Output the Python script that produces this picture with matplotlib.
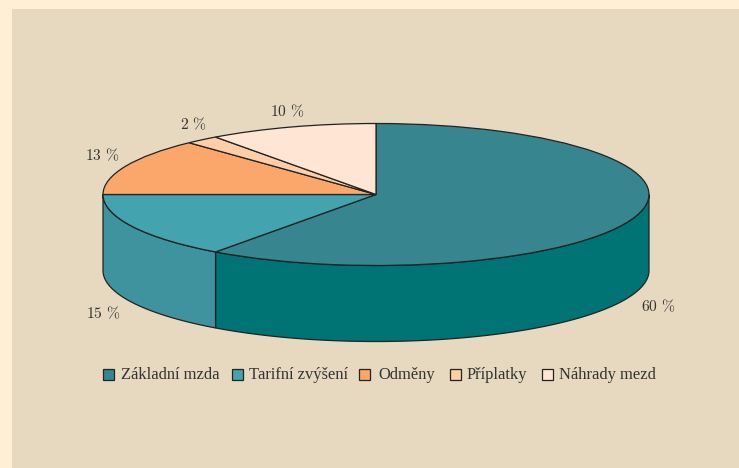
import numpy as np
import matplotlib
matplotlib.use('Agg')
import matplotlib.pyplot as plt
from matplotlib.patches import Rectangle

plt.rcParams['font.family'] = ['Liberation Serif', 'DejaVu Serif']
plt.rcParams['mathtext.fontset'] = 'cm'

categories = ['Základní mzda', 'Tarifní zvýšení', 'Odměny', 'Příplatky', 'Náhrady mezd']
values = [60, 15, 13, 2, 10]
pct_labels = ['60 %', '15 %', '13 %', '2 %', '10 %']
top_colors = ['#37858f', '#43a3af', '#fba76c', '#fdcfa9', '#ffe5d3']
side_colors = ['#007375', '#3e939f']

W, H = 739, 468
cx, cy, rx, ry, depth = 376, 194.5, 273, 71, 76
line = '#222222'

fig = plt.figure(figsize=(W / 100, H / 100), dpi=100, facecolor='#ffefd4')

# pixel coords (y down) for panel, labels and legend
px = matplotlib.transforms.Affine2D().scale(1 / W, -1 / H).translate(0, 1) + fig.transFigure

fig.add_artist(Rectangle((12, 9), W - 12, H - 9, transform=px, facecolor='#e6d9bf',
                         edgecolor='none', zorder=-5))

# axes in unit-circle coords, squashed so the pie becomes an ellipse
ax = fig.add_axes([0, 0, 1, 1])
ax.pie(values, colors=top_colors, startangle=90, counterclock=False, radius=1,
       wedgeprops=dict(edgecolor=line, linewidth=0.9, zorder=3))
ax.set_xlim((0 - cx) / rx, (W - cx) / rx)
ax.set_ylim((cy - H) / ry, cy / ry)
ax.set_aspect('auto')
ax.set_frame_on(False)

# rim of the disc, only the front half shows
d = depth / ry
edges = np.cumsum([0] + values) / sum(values) * 2 * np.pi
for i, col in enumerate(side_colors):
    a0 = max(edges[i], np.pi / 2)
    a1 = min(edges[i + 1], 3 * np.pi / 2)
    t = np.linspace(a0, a1, 200)
    xs = np.sin(t)
    ys = np.cos(t)
    ax.fill(np.r_[xs, xs[::-1]], np.r_[ys, ys[::-1] - d], facecolor=col,
            edgecolor=line, linewidth=0.9, zorder=2)

label_pos = [(658, 307), (103, 314), (102, 156), (193, 125), (287, 112)]
for s, (x, y) in zip(pct_labels, label_pos):
    num, pc = s.split(' ')
    ax.text(x, y, '$\\mathrm{%s\\ \\%%}$' % num, transform=px, ha='center', va='center',
            fontsize=11.2, color='#333333')

legend_x = [102, 231, 358, 449, 541]
text_x = [121, 249, 378, 467, 559]
for name, col, x, tx in zip(categories, top_colors, legend_x, text_x):
    ax.add_patch(Rectangle((x + 0.5, 368.5), 11, 11, transform=px, facecolor=col,
                           edgecolor=line, linewidth=0.9, clip_on=False))
    ax.text(tx, 375, name, transform=px, ha='left', va='center',
            fontsize=11.9, color='#333333')

fig.savefig('out.png', dpi=100, facecolor=fig.get_facecolor())
